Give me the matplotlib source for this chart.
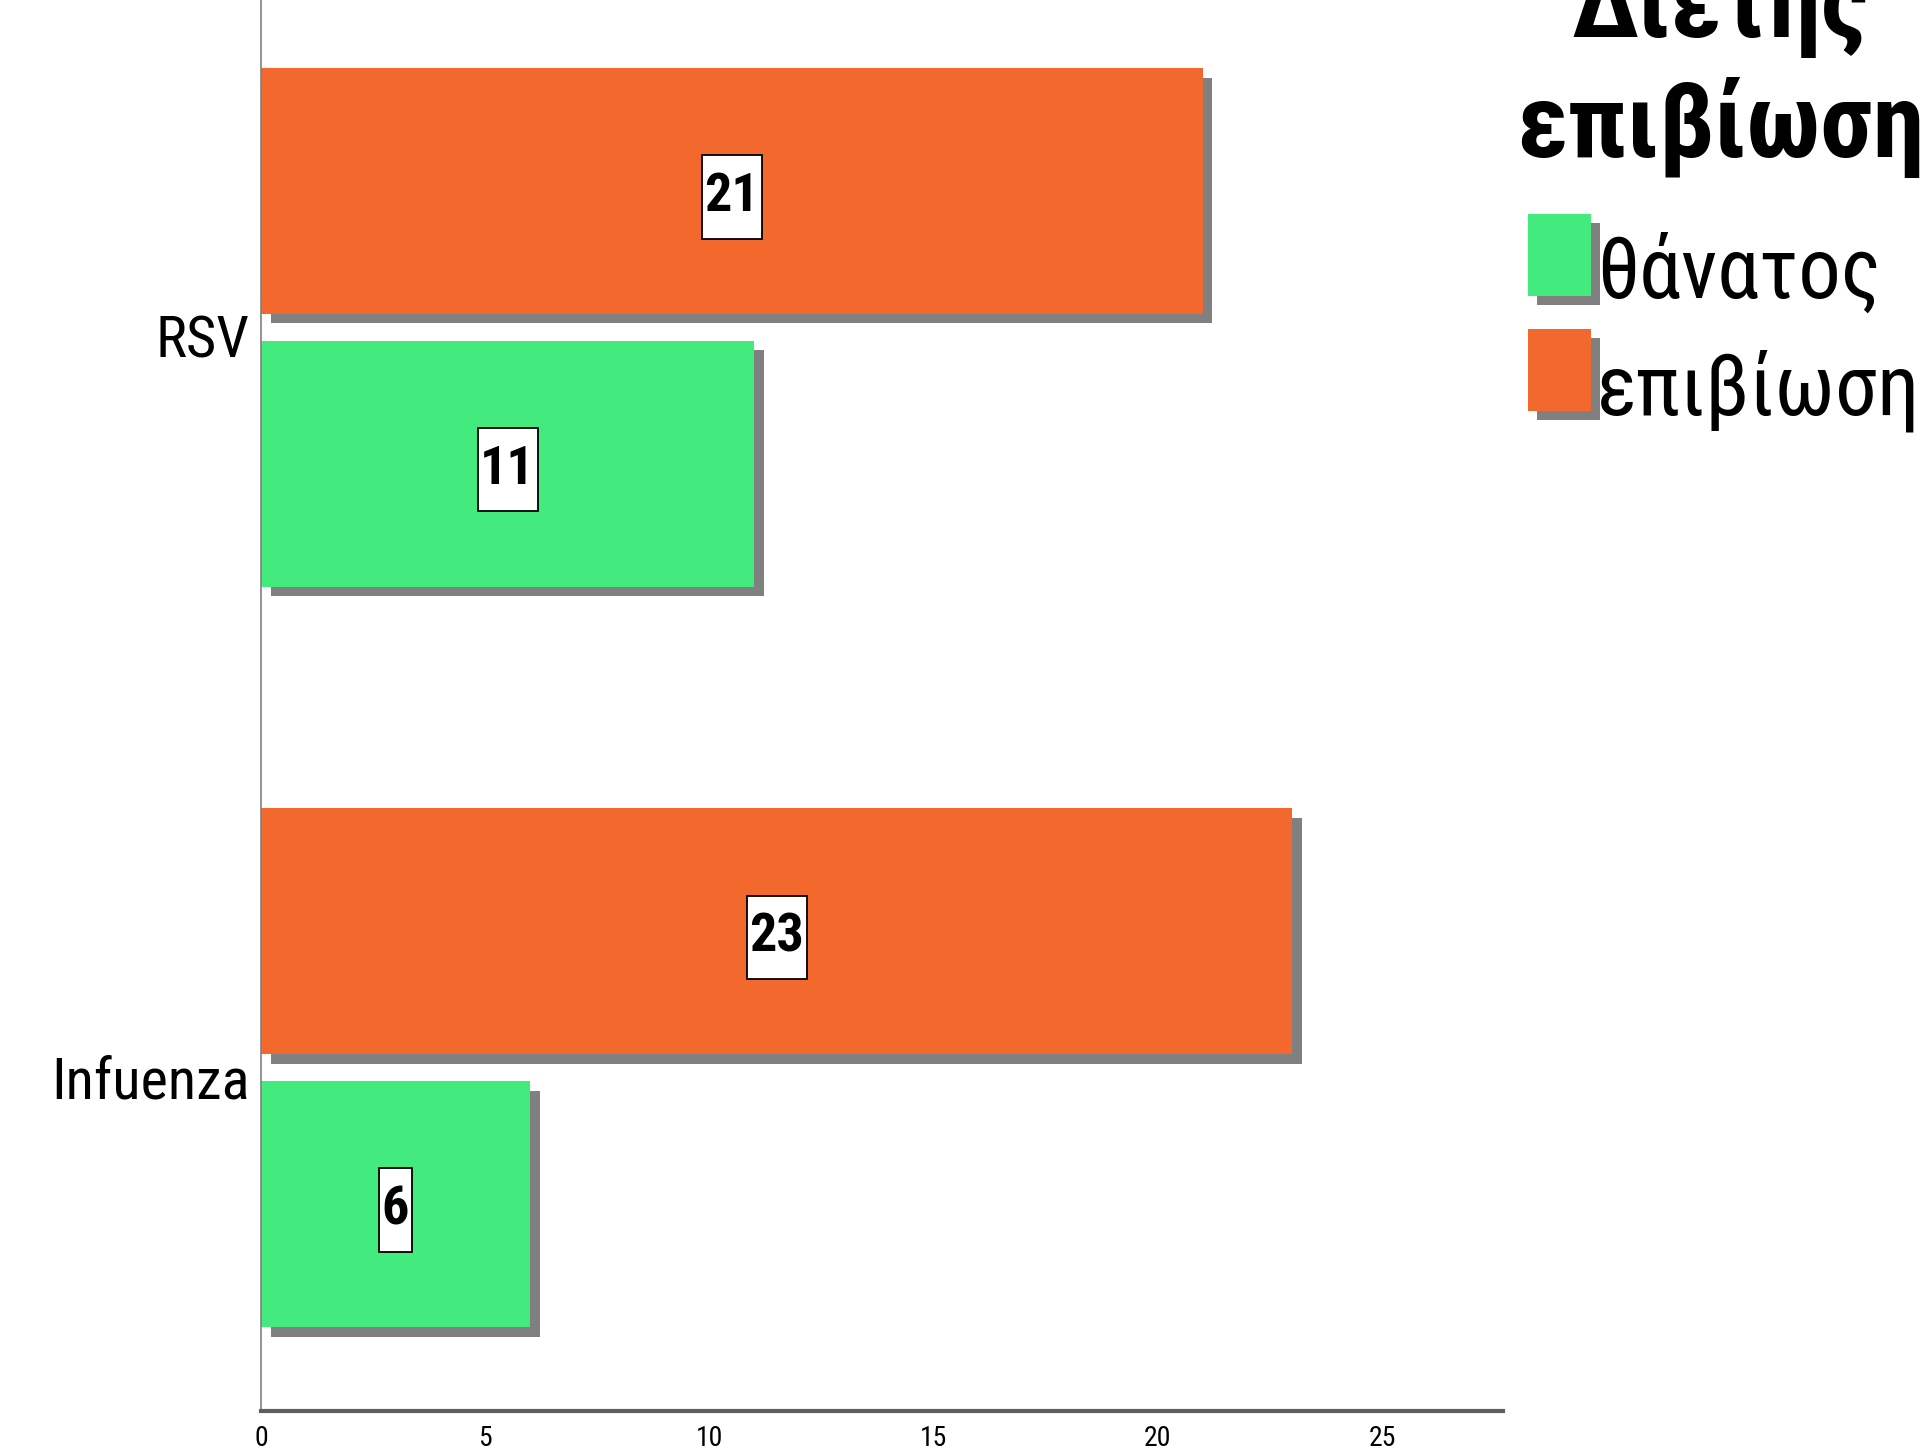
import os
import matplotlib
matplotlib.use("Agg")
import matplotlib.pyplot as plt
import matplotlib.patheffects as pe
import matplotlib.font_manager as fm
import matplotlib.transforms as mtrans
from matplotlib.patches import Rectangle
from matplotlib.path import Path
import numpy as np

# ---- data ----
categories = ["Infuenza", "RSV"]
death = [6, 11]          # θάνατος
survival = [23, 21]      # επιβίωση
series_labels = ["θάνατος", "επιβίωση"]
legend_title_lines = ["Διέτης", "επιβίωση"]
xticks = [0, 5, 10, 15, 20, 25]

GREEN = "#43EA7E"
ORANGE = "#F2682D"
SHADOW = "#808080"

OTHER_W = ["thin", "light", "medium", "semibold", "extrabold", "black", "italic", "oblique"]


def find_font(keys, bold):
    for kw in keys:
        for f in fm.fontManager.ttflist:
            n = os.path.basename(f.fname).lower().replace(" ", "")
            if kw not in n or any(w in n for w in OTHER_W):
                continue
            if bold == ("bold" in n):
                return f.fname
    return None


NARROW_KEYS = ["liberationsansnarrow", "robotocondensed", "notosans-condensed",
               "notosanscondensed", "opensans-condensed", "opensanscondensed",
               "notosans-semicondensed", "opensans-semicondensed"]
LEG_KEYS = ["notosans-semicondensed", "opensans-semicondensed", "notosans-condensed",
            "opensans-condensed", "robotocondensed", "liberationsansnarrow"]


def fprop(keys, bold, size, fallback):
    p = find_font(keys, bold)
    if p:
        return fm.FontProperties(fname=p, size=size)
    return fm.FontProperties(family=fallback, size=size, weight="bold" if bold else "normal")


def tall_box(x0, y0, width, height, mutation_size):
    px = 0.05 * mutation_size
    py = 0.30 * mutation_size
    x0, y0 = x0 - px, y0 - py
    x1, y1 = x0 + width + 2 * px, y0 + height + 2 * py
    return Path([(x0, y0), (x1, y0), (x1, y1), (x0, y1), (x0, y0)], closed=True)


W, H = 1928, 1451
fig = plt.figure(figsize=(W / 100, H / 100), dpi=100)
ax = fig.add_axes([261 / W, 1 - 1411 / H, (1503 - 261) / W, (1411 + 16) / H])

ylab_fp = fprop(NARROW_KEYS, False, 42, ["Roboto", "DejaVu Sans"])
xlab_fp = fprop(NARROW_KEYS, False, 20, ["Roboto", "DejaVu Sans"])
val_fp = fprop(NARROW_KEYS, True, 39, ["Roboto", "DejaVu Sans"])
title_fp = fprop(LEG_KEYS, True, 75, ["Open Sans", "DejaVu Sans"])
item_fp = fprop(LEG_KEYS, False, 61, ["Open Sans", "DejaVu Sans"])

y = np.arange(len(categories))
bh = 0.332
gap = 0.0365
off = (bh + gap) / 2
shadow = [pe.SimplePatchShadow(offset=(7, -7), shadow_rgbFace=SHADOW, alpha=1.0), pe.Normal()]

bars_d = ax.barh(y - off, death, height=bh, color=GREEN, path_effects=shadow, zorder=2)
bars_s = ax.barh(y + off, survival, height=bh, color=ORANGE, path_effects=shadow, zorder=2)

val_shift = ax.transData + mtrans.ScaledTranslation(0, -6 / 100, fig.dpi_scale_trans)
for bars, vals in ((bars_d, death), (bars_s, survival)):
    for b, v in zip(bars, vals):
        ax.text(v / 2, b.get_y() + b.get_height() / 2, str(v), ha="center", va="center",
                fontproperties=val_fp, zorder=5, transform=val_shift,
                bbox=dict(boxstyle=tall_box, fc="white", ec="black", lw=1.3))

ax.set_xlim(0, 27.7)
ax.set_ylim(-0.4635, 1.4635)
ax.set_yticks(y)
ax.set_yticklabels(categories, fontproperties=ylab_fp)
ax.set_xticks(xticks)
ax.set_xticklabels([str(t) for t in xticks], fontproperties=xlab_fp)
ax.tick_params(axis="both", length=0)
ax.tick_params(axis="y", pad=8)
ax.tick_params(axis="x", pad=10)
shift = mtrans.ScaledTranslation(0, -9 / 100, fig.dpi_scale_trans)
for lbl in ax.get_yticklabels():
    lbl.set_transform(lbl.get_transform() + shift)
for s in ("top", "right"):
    ax.spines[s].set_visible(False)
ax.spines["left"].set_color("#808080")
ax.spines["left"].set_linewidth(1.2)
ax.spines["bottom"].set_color("#606060")
ax.spines["bottom"].set_linewidth(3)


# ---- legend (drawn manually) ----
def fy(py):
    return 1 - py / H


for line, base in zip(legend_title_lines, (37, 157)):
    fig.text(1720 / W, fy(base), line, ha="center", va="baseline", fontproperties=title_fp)

rows = [(GREEN, series_labels[0], 214, 296, 298), (ORANGE, series_labels[1], 329, 411, 415)]
for col, lab, top, bot, base in rows:
    fig.patches.append(Rectangle((1537 / W, fy(bot + 9)), 63 / W, (bot - top) / H,
                                 transform=fig.transFigure, fc=SHADOW, ec="none"))
    fig.patches.append(Rectangle((1528 / W, fy(bot)), 63 / W, (bot - top) / H,
                                 transform=fig.transFigure, fc=col, ec="none"))
    fig.text(1597 / W, fy(base), lab, ha="left", va="baseline", fontproperties=item_fp)

fig.savefig("out.png", dpi=100)
